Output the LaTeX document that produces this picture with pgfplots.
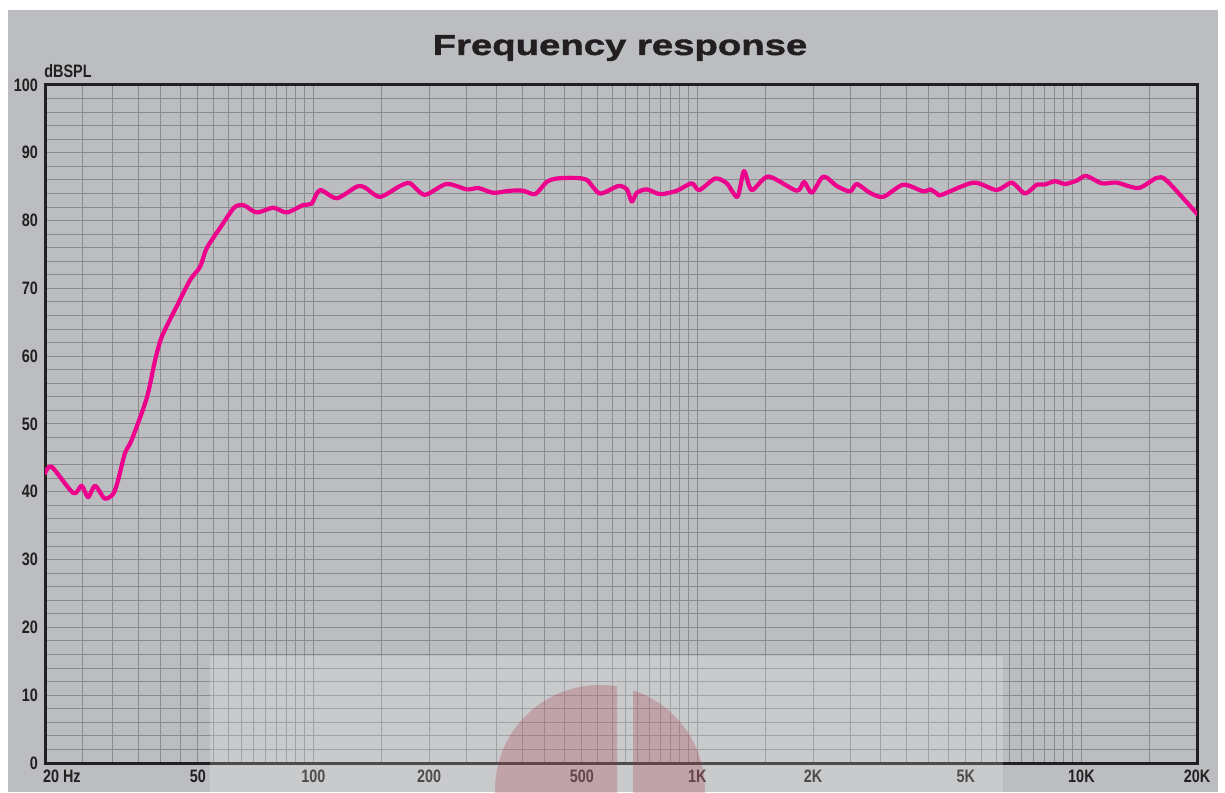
\documentclass[border=0pt]{standalone}
\usepackage{pgfplots}
\pgfplotsset{compat=1.18}
\usepackage{fontspec}
\setmainfont{Liberation Sans}
\newfontfamily\condfont[FakeStretch=0.8]{Liberation Sans}
\newfontfamily\titlefont[FakeStretch=1.33,FakeBold=1.5]{Liberation Sans}
\definecolor{bg}{HTML}{BCBDC0}
\definecolor{gridc}{HTML}{8A8B8E}
\definecolor{curve}{HTML}{EC008C}
\definecolor{axc}{HTML}{231F20}
\definecolor{logo}{HTML}{A8303E}
\begin{document}
\begin{tikzpicture}[x=1pt,y=1pt]
\path[use as bounding box] (0,0) rectangle (612.5,396);
\fill[white] (0,0) rectangle (612.5,396);
\fill[bg] (4,0) rectangle (609,391);
\begin{axis}[at={(22.5pt,14.5pt)}, anchor=south west, scale only axis,
  width=576pt, height=339pt,
  xmode=log, xmin=20, xmax=20000, ymin=0, ymax=100,
  /pgf/number format/assume math mode=true,
  xtick={20,50,100,200,500,1000,2000,5000,10000,20000},
  xticklabels={\makebox[0pt][l]{\hspace{-1pt}20 Hz},50,100,200,500,1K,2K,5K,10K,20K},
  minor xtick={25,30,35,40,45,55,60,65,70,75,80,85,90,95,150,250,300,350,400,450,550,600,650,700,750,800,850,900,950,1500,2500,3000,3500,4000,4500,5500,6000,6500,7000,7500,8000,8500,9000,9500,15000},
  ytick={0,10,...,100}, minor ytick={2,4,...,98},
  yticklabels={0,10,20,30,40,50,60,70,80,90,100},
  grid=both, grid style={gridc, line width=0.5pt}, minor grid style={gridc, line width=0.5pt},
  major tick length=0pt, minor tick length=0pt,
  axis line style={axc, line width=1.5pt},
  tick label style={font=\condfont\bfseries\fontsize{9}{9}\selectfont, text=axc},
]
\addplot[curve, line width=2.1pt, line join=round, line cap=round, smooth, tension=0.45] coordinates {
(20,42.7) (20.8,43.7) (23.7,39.8) (24.9,40.9) (25.9,39.2) (27.0,40.9) (28.6,39.0) (30.1,39.7)
(31.0,41.7) (32.3,45.7) (33.6,47.6) (36.8,53.8) (38.7,59.4) (40.3,62.9) (44.0,67.3) (47.7,71.2)
(50.7,73.2) (52.7,75.9) (57.1,78.9) (61.9,81.8) (64.4,82.3) (66.3,82.2) (71.2,81.2) (78.6,81.9)
(85.2,81.2) (94.1,82.3) (98.9,82.5) (104,84.5) (115,83.3) (129.6,85.0) (136,84.9) (149,83.5)
(168,85.1) (178.5,85.5) (195,83.8) (222,85.4) (251,84.6) (269,84.8) (294,84.1) (325,84.4)
(352,84.4) (378,83.9) (405,85.7) (430,86.2) (475,86.3) (515,86.0) (557,84.0) (622,85.1)
(655,84.6) (675,82.8) (695,84.1) (738,84.6) (800,83.9) (883,84.4) (966,85.5) (1011,84.5)
(1112,86.2) (1192,85.5) (1271,83.5) (1322,87.3) (1385,84.5) (1530,86.5) (1813,84.4) (1896,85.7)
(1985,84.1) (2129,86.5) (2306,85.1) (2497,84.3) (2599,85.4) (2813,84.1) (3048,83.5) (3436,85.3)
(3874,84.3) (4036,84.6) (4203,84.0) (4325,83.8) (5233,85.6) (6017,84.5) (6581,85.6) (7130,84.0)
(7651,85.3) (8000,85.3) (8534,85.8) (9058,85.4) (9720,85.9) (10280,86.6) (11290,85.5) (12360,85.6)
(14070,84.8) (15710,86.3) (16670,85.9) (20000,81.0)
};
\end{axis}
\fill[white, fill opacity=0.2] (105,0) rectangle (501.5,68);
\begin{scope}
\clip (240,0) rectangle (308.5,60);
\fill[logo, fill opacity=0.25] (300,1) circle (52.5);
\end{scope}
\begin{scope}
\clip (316.5,0) rectangle (360,60);
\fill[logo, fill opacity=0.25] (300,1) circle (52.5);
\end{scope}
\node[anchor=west, inner sep=0pt, font=\condfont\bfseries\fontsize{9}{9}\selectfont, text=axc] at (22,360.5) {dBSPL};
\node[anchor=base, inner sep=0pt, font=\titlefont\bfseries\fontsize{14.4}{14.4}\selectfont, text=axc] at (310,368.5) {Frequency response};
\end{tikzpicture}
\end{document}
